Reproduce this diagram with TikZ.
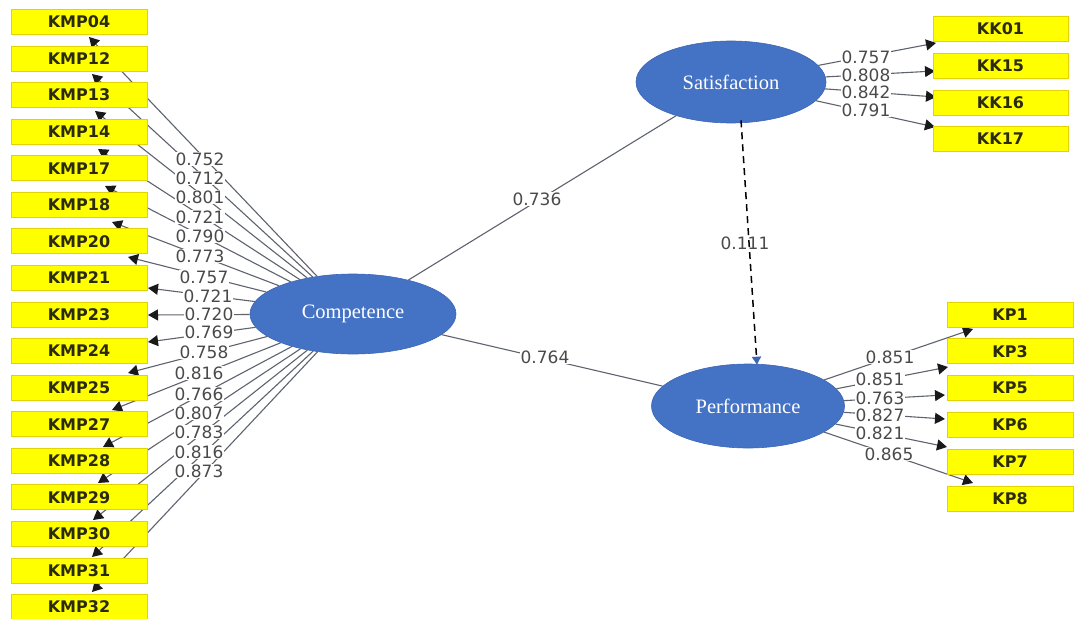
\documentclass[tikz,border=0pt]{standalone}
\usepackage{fontspec}
\setmainfont{DejaVu Sans}
\newfontfamily\serifont{Liberation Serif}
\usetikzlibrary{arrows.meta,shapes.geometric}
\pgfdeclarelayer{back}
\pgfdeclarelayer{bg}
\pgfsetlayers{back,bg,main}
\definecolor{indy}{HTML}{FFFF00}
\definecolor{indb}{HTML}{E2D400}
\definecolor{indt}{HTML}{2B2B0A}
\definecolor{lvb}{HTML}{4472C4}
\definecolor{lvd}{HTML}{3C66B4}
\definecolor{lnc}{HTML}{5E636E}
\definecolor{wtc}{HTML}{4A4A4A}
\tikzset{
  ind/.style={rectangle, fill=indy, draw=indb, line width=0.8pt, minimum height=25pt, inner sep=0pt, text=indt, font=\bfseries\fontsize{16}{16}\selectfont},
  lvar/.style={ellipse, fill=lvb, draw=lvd, line width=0.6pt, inner sep=0pt, text=white, font=\serifont\fontsize{20.5}{20.5}\selectfont},
  ld/.style={draw=lnc, line width=1.1pt, -{Triangle[length=10pt,width=11pt,color=black!90]}},
  pl/.style={draw=lnc, line width=1.1pt},
  wt/.style={fill=white, inner sep=0.4pt, text=wtc, font=\fontsize{17}{17}\selectfont},
  nf/.style={inner sep=0.4pt, text=wtc, font=\fontsize{17}{17}\selectfont},
}
\begin{document}
\begin{tikzpicture}[x=1pt,y=-1pt]
\begin{pgfonlayer}{back}
  \fill[white] (0,0) rectangle (1075,618);
\end{pgfonlayer}
\useasboundingbox (0,0) rectangle (1075,618);

% latent variables
\node[lvar, minimum width=206pt, minimum height=80pt] (comp) at (353,314) {Competence};
\node[lvar, minimum width=190pt, minimum height=82pt] (sat) at (731,82) {Satisfaction};
\node[lvar, minimum width=193pt, minimum height=84pt] (perf) at (748,406) {Performance};

% indicator boxes
\foreach \nm/\i in {KMP04/0,KMP12/1,KMP13/2,KMP14/3,KMP17/4,KMP18/5,KMP20/6,KMP21/7,KMP23/8,KMP24/9,KMP25/10,KMP27/11,KMP28/12,KMP29/13,KMP30/14,KMP31/15,KMP32/16}
  \node[ind, minimum width=136pt] (\nm) at (79,22+\i*36.56) {\nm};
\foreach \nm/\i in {KK01/0,KK15/1,KK16/2,KK17/3}
  \node[ind, minimum width=135pt] (\nm) at (1000.5,29+\i*36.7) {\nm};
\foreach \nm/\i in {KP1/0,KP3/1,KP5/2,KP6/3,KP7/4,KP8/5}
  \node[ind, minimum width=126pt] (\nm) at (1010,314.5+\i*36.8) {\nm};

% arrow end points
\coordinate (t04) at (89,37);
\coordinate (t12) at (92,74);
\coordinate (t13) at (95,111);
\coordinate (t14) at (98,149);
\coordinate (t17) at (105,186);
\coordinate (t18) at (112,222);
\coordinate (t20) at (128,257);
\coordinate (t21) at (148,288);
\coordinate (t23) at (148,315);
\coordinate (t24) at (148,342);
\coordinate (t25) at (128,373);
\coordinate (t27) at (112,410);
\coordinate (t28) at (103,447);
\coordinate (t29) at (98,483);
\coordinate (t30) at (93,520);
\coordinate (t31) at (92,557);
\coordinate (t32) at (92,592);
\coordinate (k01) at (936,43);
\coordinate (k15) at (935,71);
\coordinate (k16) at (936,97);
\coordinate (k17) at (935,127);
\coordinate (p1) at (973,329);
\coordinate (p3) at (948,367);
\coordinate (p5) at (945,395);
\coordinate (p6) at (945,419);
\coordinate (p7) at (947,447);
\coordinate (p8) at (973,483);
\coordinate (dsA) at ([xshift=10pt,yshift=3pt]sat.south);
\coordinate (dsB) at ([xshift=9pt,yshift=-1pt]perf.north);

\begin{pgfonlayer}{bg}
  \foreach \t in {t04,t12,t13,t14,t17,t18,t20,t21,t23,t24,t25,t27,t28,t29,t30,t31,t32}
    \draw[ld] (comp) -- (\t);
  \foreach \t in {k01,k15,k16,k17}
    \draw[ld] (sat) -- (\t);
  \foreach \t in {p1,p3,p5,p6,p7,p8}
    \draw[ld] (perf) -- (\t);
  \draw[pl] (comp) -- (sat);
  \draw[pl] (comp) -- (perf);
\end{pgfonlayer}
\draw[black, line width=1.5pt, dash pattern=on 7pt off 5pt, -{Triangle[length=8pt,width=9pt,color=lvd]}] (dsA) -- (dsB);

% loading labels (Competence)
\node[wt] (l04) at (200,159) {0.752};
\node[wt] (l12) at (200,178) {0.712};
\node[wt] (l13) at (200,197) {0.801};
\node[wt] (l14) at (200,217) {0.721};
\node[wt] (l17) at (200,236) {0.790};
\node[wt] (l18) at (200,256) {0.773};
\node[wt] (l20) at (204,277) {0.757};
\node[wt] (l21) at (208,296) {0.721};
\node[wt] (l23) at (209,314) {0.720};
\node[wt] (l24) at (209,332) {0.769};
\node[wt] (l25) at (204,352) {0.758};
\node[wt] (l27) at (199,373) {0.816};
\node[wt] (l28) at (199,394) {0.766};
\node[wt] (l29) at (199,413) {0.807};
\node[wt] (l30) at (199,432) {0.783};
\node[wt] (l31) at (199,452) {0.816};
\node[wt] (l32) at (199,471) {0.873};
% Satisfaction
\node[wt] (lk01) at (866,57) {0.757};
\node[wt] (lk15) at (866,75) {0.808};
\node[wt] (lk16) at (866,92) {0.842};
\node[wt] (lk17) at (866,110) {0.791};
% Performance
\node[wt] (lp1) at (890,357) {0.851};
\node[wt] (lp3) at (880,379) {0.851};
\node[wt] (lp5) at (880,398) {0.763};
\node[wt] (lp6) at (880,415) {0.827};
\node[wt] (lp7) at (880,433) {0.821};
\node[wt] (lp8) at (889,454) {0.865};
% paths
\node[wt] (lcs) at (537,199) {0.736};
\node[wt] (lcp) at (545,357) {0.764};
\node[nf] (lsp) at (745,243) {0.111};
\end{tikzpicture}
\end{document}
